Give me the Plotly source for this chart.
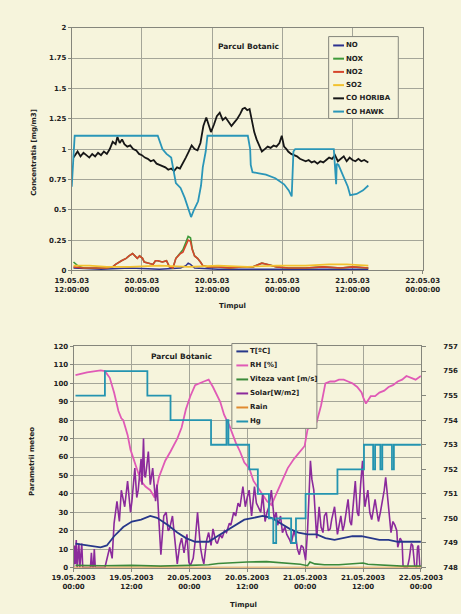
import pandas as pd
import plotly.graph_objects as go

W, H = 461, 614

# ---------------- Parcul Botanic: concentrations ----------------
# time axis: hours after 19.05.03 12:00:00
START_TOP = pd.Timestamp("2003-05-19 12:00")

no_h = [0.3, 5, 10, 15, 18.6, 19.5, 19.9, 20.3, 21, 25, 30, 40, 50.7]
no_v = [0.02, 0.01, 0.02, 0.01, 0.02, 0.04, 0.06, 0.05, 0.02, 0.01, 0.01, 0.01, 0.01]

no2_h = [0.3, 2, 4, 6, 7, 7.5, 8.5, 9.3, 9.8, 10.4, 10.8, 11.2, 11.6, 12.1, 12.4, 13.1, 13.9,
         14.3, 14.7, 15.5, 16.2, 16.7, 17.3, 17.8, 18.6, 19.0, 19.5, 19.9, 20.3, 20.6, 21.0,
         21.5, 22.0, 22.4, 23.2, 25, 27, 29, 31, 32.5, 33.5, 35, 37, 40, 43, 46, 48, 50.7]
no2_v = [0.03, 0.02, 0.02, 0.02, 0.03, 0.05, 0.08, 0.10, 0.12, 0.14, 0.12, 0.10, 0.12, 0.10,
         0.07, 0.06, 0.05, 0.08, 0.08, 0.07, 0.08, 0.03, 0.02, 0.10, 0.14, 0.15, 0.20, 0.25,
         0.24, 0.17, 0.12, 0.10, 0.07, 0.04, 0.03, 0.03, 0.02, 0.03, 0.03, 0.06, 0.05, 0.03,
         0.02, 0.02, 0.03, 0.02, 0.03, 0.02]

nox_h = [0.3, 1, 2, 4, 6, 7, 7.5, 8.5, 9.3, 9.8, 10.4, 10.8, 11.2, 11.6, 12.1, 12.4, 13.1,
         13.9, 14.3, 14.7, 15.5, 16.2, 16.7, 17.3, 17.8, 18.6, 19.0, 19.5, 19.9, 20.3, 20.6,
         21.0, 21.5, 22.0, 22.4, 23.2, 25, 27, 29, 31, 32.5, 33.5, 35, 37, 40, 43, 46, 48,
         50.7]
nox_v = [0.07, 0.04, 0.02, 0.02, 0.02, 0.03, 0.05, 0.08, 0.10, 0.12, 0.14, 0.12, 0.10, 0.12,
         0.10, 0.07, 0.06, 0.05, 0.08, 0.08, 0.07, 0.08, 0.03, 0.02, 0.10, 0.15, 0.17, 0.23,
         0.28, 0.27, 0.18, 0.12, 0.10, 0.07, 0.04, 0.03, 0.03, 0.02, 0.03, 0.03, 0.06, 0.05,
         0.03, 0.02, 0.02, 0.03, 0.02, 0.03, 0.02]

so2_h = [0.3, 3, 6, 10, 15, 20, 25, 30, 35, 40, 44, 47, 50.7]
so2_v = [0.04, 0.04, 0.03, 0.03, 0.04, 0.03, 0.04, 0.03, 0.04, 0.04, 0.05, 0.05, 0.04]

horiba_h = [0.3, 1, 1.5, 2, 2.5, 3, 3.5, 4, 4.5, 5, 5.5, 6, 6.5, 7, 7.5, 7.8, 8.2, 8.6, 9,
            9.5, 10, 10.5, 11, 11.5, 12, 12.5, 13, 13.5, 14, 14.5, 15, 15.5, 16, 16.5, 17,
            17.5, 18, 18.5, 19, 19.5, 20, 20.5, 21, 21.5, 22, 22.5, 23, 23.4, 23.8, 24.3,
            24.8, 25.3, 25.8, 26.3, 26.8, 27.3, 27.8, 28.3, 28.8, 29.2, 29.6, 30, 30.4, 30.8,
            31.2, 31.6, 32, 32.5, 33, 33.5, 34, 34.5, 35, 35.5, 35.9, 36.3, 36.7, 37, 37.5,
            38, 38.5, 39, 39.5, 40, 40.5, 41, 41.5, 42, 42.5, 43, 43.5, 44, 44.5, 45, 45.5,
            46, 46.5, 47, 47.5, 48, 48.5, 49, 49.5, 50, 50.7]
horiba_v = [0.93, 0.98, 0.94, 0.97, 0.95, 0.93, 0.96, 0.94, 0.97, 0.95, 0.98, 0.96, 1.00,
            1.06, 1.04, 1.10, 1.05, 1.08, 1.04, 1.02, 1.03, 1.00, 0.99, 0.96, 0.95, 0.93,
            0.92, 0.90, 0.91, 0.88, 0.87, 0.86, 0.85, 0.83, 0.84, 0.82, 0.85, 0.84, 0.88,
            0.93, 0.98, 1.03, 1.00, 0.99, 1.05, 1.19, 1.26, 1.20, 1.14, 1.20, 1.27, 1.30,
            1.24, 1.26, 1.22, 1.19, 1.22, 1.25, 1.29, 1.33, 1.34, 1.32, 1.33, 1.24, 1.14,
            1.08, 1.03, 0.98, 1.00, 1.02, 1.01, 1.03, 1.02, 1.05, 1.11, 1.02, 1.00, 0.98,
            0.96, 0.95, 0.94, 0.92, 0.91, 0.90, 0.91, 0.89, 0.90, 0.88, 0.90, 0.89, 0.91,
            0.93, 0.92, 0.95, 0.90, 0.92, 0.94, 0.90, 0.93, 0.91, 0.90, 0.92, 0.90, 0.91,
            0.89]

hawk_h = [0, 0.3, 0.5, 14.7, 15.5, 16.2, 17.0, 17.8, 18.6, 19.3, 19.9, 20.4, 20.9, 21.6,
          22.1, 22.4, 22.9, 23.2, 30.1, 30.5, 30.6, 30.9, 32.0, 33.2, 34.8, 36.3, 37.1,
          37.6, 37.9, 38.2, 44.8, 45.0, 45.2, 45.3, 45.6, 46.4, 47.2, 47.6, 48.7, 49.8, 50.7]
hawk_v = [0.69, 0.95, 1.11, 1.11, 1.00, 0.96, 0.93, 0.72, 0.68, 0.60, 0.52, 0.44, 0.50,
          0.57, 0.70, 0.85, 0.98, 1.11, 1.11, 1.00, 0.87, 0.81, 0.80, 0.79, 0.76, 0.71,
          0.66, 0.61, 0.98, 1.00, 1.00, 0.89, 0.71, 0.88, 0.87, 0.78, 0.69, 0.62, 0.63,
          0.66, 0.70]

conc_ticks = [0, 0.25, 0.5, 0.75, 1, 1.25, 1.5, 1.75, 2]
conc_tick_text = ["0", "0.25", "0.5", "0.75", "1", "1.25", "1.5", "1.75", "2"]
top_time_text = ["19.05.03<br>12:00:00", "20.05.03<br>00:00:00", "20.05.03<br>12:00:00",
                 "21.05.03<br>00:00:00", "21.05.03<br>12:00:00", "22.05.03<br>00:00:00"]

# ---------------- Parcul Botanic: weather ----------------
# time axis: hours after 19.05.2003 00:00
START_BOT = pd.Timestamp("2003-05-19 00:00")

temp_h = [0.4, 2.8, 5.6, 6.9, 8.4, 10.3, 12.1, 14.0, 15.9, 17.3, 19.6, 21.5, 23.3, 25.2, 28.0,
          29.8, 31.7, 33.6, 35.4, 37.3, 39.2, 41.0, 42.9, 44.8, 46.6, 48.5, 50.4, 52.2, 54.1,
          56.0, 57.8, 59.7, 61.6, 63.4, 65.3, 67.2, 69.0, 72]
temp_v = [13, 12, 11, 12, 17, 22, 25, 26, 28, 27, 23, 19, 16, 14, 14, 17, 20, 23, 26, 27, 28,
          27, 24, 21, 19, 18, 18, 16, 15, 16, 17, 17, 16, 15, 15, 14, 14, 14]

rh_h = [0.4, 2.8, 5.6, 6.5, 7.5, 8.4, 9.3, 9.9, 10.3, 10.6, 11.2, 11.8, 12.5, 13.2, 14.0, 14.9,
        15.9, 16.8, 17.7, 19.0, 20.1, 21.5, 22.4, 23.3, 24.2, 25.2, 27.0, 28.0, 28.9, 29.8,
        30.4, 31.2, 32.3, 33.6, 34.5, 35.4, 36.4, 37.3, 38.6, 40.1, 41.0, 42.0, 43.3, 44.4,
        45.7, 46.6, 47.2, 47.9, 48.5, 49.4, 50.4, 51.3, 52.2, 53.2, 54.1, 55.0, 56.0, 56.9,
        57.8, 58.8, 59.7, 60.1, 60.6, 61.6, 62.5, 63.4, 64.4, 65.3, 66.2, 67.2, 68.1, 69.0,
        70.0, 70.9, 72]
rh_v = [104.5, 106, 107, 106.6, 103, 95, 85, 81, 80, 77, 72, 64, 58, 53, 47, 44, 42, 38, 49,
        58, 63, 70, 76, 86, 93, 99, 101, 102, 98, 93, 90, 83, 77, 68, 63, 57, 54, 47, 42, 36,
        34, 40, 47, 54, 59, 62, 64, 66, 75, 77, 79, 88, 100, 101, 101, 102, 102, 101, 100,
        98, 95, 92, 89, 93, 93, 95, 96, 98, 99, 101, 102, 104, 103, 102, 104]

wind_h = [0.4, 6, 12, 18, 24, 28, 30, 33, 36, 40, 44, 47, 48.5, 49, 50, 52, 55, 58, 60, 61,
          63, 65, 68, 72]
wind_v = [1.2, 1.0, 1.2, 0.8, 1.2, 1.5, 2.2, 2.8, 3.0, 3.2, 2.5, 1.8, 1.0, 3.0, 2.0, 1.5,
          1.5, 2.0, 2.5, 1.8, 1.5, 1.0, 0.8, 0.8]

solar_h = [0.0, 0.2, 0.37, 0.56, 0.75, 0.93, 1.1, 1.3, 1.5, 1.7, 1.9, 3.5, 3.7, 3.9, 4.1, 4.3,
           4.5, 6.5, 7.5, 8.0, 8.4, 9.0, 9.5, 9.9, 10.6, 11.2, 11.8, 12.1, 12.7, 13.1, 13.4,
           14.0, 14.2, 14.5, 14.7, 14.9, 15.3, 15.5, 15.9, 16.4, 17.0, 17.3, 17.7, 18.1, 18.7,
           19.2, 19.6, 19.9, 20.5, 21.1, 21.5, 22.0, 22.4, 22.9, 23.5, 23.9, 24.2, 24.8, 25.2,
           25.7, 26.3, 26.7, 27.0, 27.6, 28.0, 28.5, 28.9, 29.5, 29.8, 30.4, 30.8, 31.3, 31.7,
           32.3, 32.6, 33.2, 33.6, 34.1, 34.5, 35.1, 35.6, 36.0, 36.4, 36.9, 37.5, 37.9, 38.2,
           38.8, 39.2, 39.7, 40.1, 40.5, 41.0, 41.6, 42.0, 42.3, 42.9, 43.3, 43.8, 44.2, 44.8,
           45.1, 45.7, 46.1, 46.4, 46.8, 47.2, 47.6, 48.1, 48.5, 48.9, 49.1, 49.4, 49.8, 50.4,
           50.9, 51.3, 51.7, 52.0, 52.4, 52.8, 53.2, 53.5, 54.1, 54.7, 55.0, 55.4, 55.8, 56.1,
           56.5, 56.9, 57.3, 57.6, 58.0, 58.4, 58.8, 59.1, 59.5, 59.9, 60.2, 60.4, 61.0, 61.4,
           61.8, 62.1, 62.5, 62.9, 63.2, 63.6, 64.0, 64.4, 64.7, 65.1, 65.3, 65.8, 66.2, 66.6,
           67.0, 67.2, 67.7, 68.1, 68.3, 68.6, 69.2, 69.6, 70.0, 70.3, 70.7, 71.1, 71.3, 71.5,
           71.8]
solar_v = [0, 12, 2, 15, 0, 10, 13, 0, 8, 13, 0, 0, 8, 0, 0, 10, 0, 0, 11, 5, 24, 36, 25, 42,
           33, 47, 30, 36, 54, 38, 42, 59, 45, 70, 50, 49, 58, 63, 45, 54, 36, 45, 25, 7, 28, 30,
           20, 21, 28, 10, 2, 12, 16, 8, 18, 3, 1, 5, 14, 30, 11, 5, 2, 15, 19, 12, 21, 14, 13,
           18, 16, 20, 19, 24, 23, 30, 28, 35, 33, 44, 33, 38, 42, 28, 44, 35, 33, 30, 40, 25,
           30, 33, 42, 26, 30, 23, 28, 19, 22, 18, 15, 13, 20, 16, 10, 7, 12, 11, 4, 20, 45,
           58, 48, 42, 16, 33, 22, 19, 28, 30, 20, 21, 26, 33, 18, 22, 28, 20, 23, 30, 37, 25,
           23, 35, 47, 30, 28, 45, 58, 40, 33, 42, 30, 26, 32, 37, 30, 25, 30, 35, 42, 49, 38,
           31, 19, 25, 23, 20, 11, 16, 14, 1, 0, 0, 5, 13, 12, 1, 0, 11, 12, 0]

rain_h = [0, 72]
rain_v = [0, 0]

hg_h = [0.4, 6.5, 15.3, 20.1, 28.5, 31.7, 32.1, 36.4, 38.2, 40.5, 41.4, 42.0, 45.1, 46.1,
        48.1, 54.7, 60.2, 62.1, 62.5, 63.6, 64.0, 66.0, 66.4, 72]
hg_v = [755, 756, 755, 754, 753, 754, 753, 752, 751, 750, 749, 750, 749, 750, 751, 752, 753,
        752, 753, 752, 753, 752, 753, 753]

bot_time_text = ["19.05.2003<br>00:00", "19.05.2003<br>12:00", "20.05.2003<br>00:00",
                 "20.05.2003<br>12:00", "21.05.2003<br>00:00", "21.05.2003<br>12:00",
                 "22.05.2003<br>00:00"]


def times(start, hours):
    return start + pd.to_timedelta(hours, unit="h")


def px(x):
    return x / W


def py(y):
    return 1 - y / H


BG = "#f6f4dc"
GRID = "#a4a598"
AXIS = "#85867c"
TXT = "#222222"
FONT = "DejaVu Sans"

fig = go.Figure()

top_series = [
    ("NO", no_h, no_v, "#2c318f", 1.4),
    ("NOX", nox_h, nox_v, "#3f9a3a", 1.6),
    ("NO2", no2_h, no2_v, "#d6452c", 1.6),
    ("SO2", so2_h, so2_v, "#f2c12e", 1.6),
    ("CO HORIBA", horiba_h, horiba_v, "#161616", 1.8),
    ("CO HAWK", hawk_h, hawk_v, "#2a96b8", 1.8),
]
for name, hh, vv, col, lw in top_series:
    fig.add_trace(go.Scatter(x=times(START_TOP, hh), y=vv, name=name, mode="lines",
                             line=dict(color=col, width=lw), xaxis="x", yaxis="y",
                             showlegend=False))

bot_series = [
    ("T[ºC]", temp_h, temp_v, "#27388a", 1.8, "y2", "linear"),
    ("RH [%]", rh_h, rh_v, "#e05ab6", 1.8, "y2", "linear"),
    ("Viteza vant [m/s]", wind_h, wind_v, "#3b8a3b", 1.6, "y2", "linear"),
    ("Solar[W/m2]", solar_h, solar_v, "#8b2a9c", 1.6, "y2", "linear"),
    ("Rain", rain_h, rain_v, "#e08a30", 1.4, "y2", "linear"),
    ("Hg", hg_h, hg_v, "#2494b0", 1.8, "y3", "hv"),
]
# drawing order: humidity and radiation first, temperature on top of them
draw_order = [1, 3, 2, 0, 4, 5]
for i in draw_order:
    name, hh, vv, col, lw, ya, shape = bot_series[i]
    fig.add_trace(go.Scatter(x=times(START_BOT, hh), y=vv, name=name, mode="lines",
                             line=dict(color=col, width=lw, shape=shape), xaxis="x2",
                             yaxis=ya, showlegend=False))

tick_font = dict(family=FONT, size=7, color=TXT, weight="bold")
axis_common = dict(showgrid=True, gridcolor=GRID, gridwidth=1, showline=True,
                   linecolor=AXIS, linewidth=1, mirror=True, ticks="outside",
                   ticklen=3, tickcolor=AXIS, tickfont=tick_font, zeroline=False)

fig.update_layout(
    width=W, height=H, margin=dict(l=0, r=0, t=0, b=0),
    paper_bgcolor=BG, plot_bgcolor=BG, showlegend=False,
    xaxis=dict(domain=[px(55), px(443)], anchor="y", type="date",
               range=[START_TOP, START_TOP + pd.Timedelta(hours=60)],
               tickvals=[START_TOP + pd.Timedelta(hours=12 * k) for k in range(6)],
               ticktext=top_time_text, **axis_common),
    yaxis=dict(domain=[py(270), py(24)], anchor="x", range=[0, 2],
               tickvals=conc_ticks, ticktext=conc_tick_text, **axis_common),
    xaxis2=dict(domain=[px(57), px(441)], anchor="y2", type="date",
                range=[START_BOT, START_BOT + pd.Timedelta(hours=72)],
                tickvals=[START_BOT + pd.Timedelta(hours=12 * k) for k in range(7)],
                ticktext=bot_time_text, **axis_common),
    yaxis2=dict(domain=[py(571), py(347)], anchor="x2", range=[0, 120], dtick=10,
                **axis_common),
    yaxis3=dict(overlaying="y2", anchor="x2", side="right", range=[748, 757], dtick=1,
                showgrid=False, zeroline=False, showline=True, linecolor=AXIS,
                ticks="outside", ticklen=4, tickcolor=AXIS, tickfont=tick_font,
                ticklabelstandoff=16),
)

annotations = []
shapes = []


def label(x, y, text, size=7, xanchor="left", angle=0):
    annotations.append(dict(x=px(x), y=py(y), xref="paper", yref="paper", text=text,
                            showarrow=False, xanchor=xanchor, yanchor="middle",
                            textangle=angle,
                            font=dict(family=FONT, size=size, color=TXT, weight="bold")))


# station names
label(250, 43, "Parcul Botanic", size=7.5, xanchor="center")
label(176, 357, "Parcul Botanic", size=7.5, xanchor="center")

# axis titles
label(13, 150, "Concentratia [mg/m3]", size=7, angle=-90, xanchor="center")
label(233, 306, "Timpul", size=7, xanchor="center")
label(11, 463, "Parametrii meteo", size=7, angle=-90, xanchor="center")
label(245, 609, "Timpul", size=7, xanchor="center")


def legend_box(x0, x1, y0, y1, rows, y_first, step, sample_x0, sample_x1):
    shapes.append(dict(type="rect", xref="paper", yref="paper", x0=px(x0), x1=px(x1),
                       y0=py(y1), y1=py(y0), line=dict(color=AXIS, width=1),
                       fillcolor=BG, layer="above"))
    for i, (name, col) in enumerate(rows):
        yy = y_first + i * step
        shapes.append(dict(type="line", xref="paper", yref="paper", x0=px(sample_x0),
                           x1=px(sample_x1), y0=py(yy), y1=py(yy),
                           line=dict(color=col, width=2), layer="above"))
        label(sample_x1, yy, name)


legend_box(339, 416, 33, 116, [(s[0], s[3]) for s in top_series], 42, 13.4, 344, 356)
legend_box(232, 326, 344, 430, [(s[0], s[3]) for s in bot_series], 352, 14.2, 237, 250)

fig.update_layout(annotations=annotations, shapes=shapes)

fig.write_html("out.html")
